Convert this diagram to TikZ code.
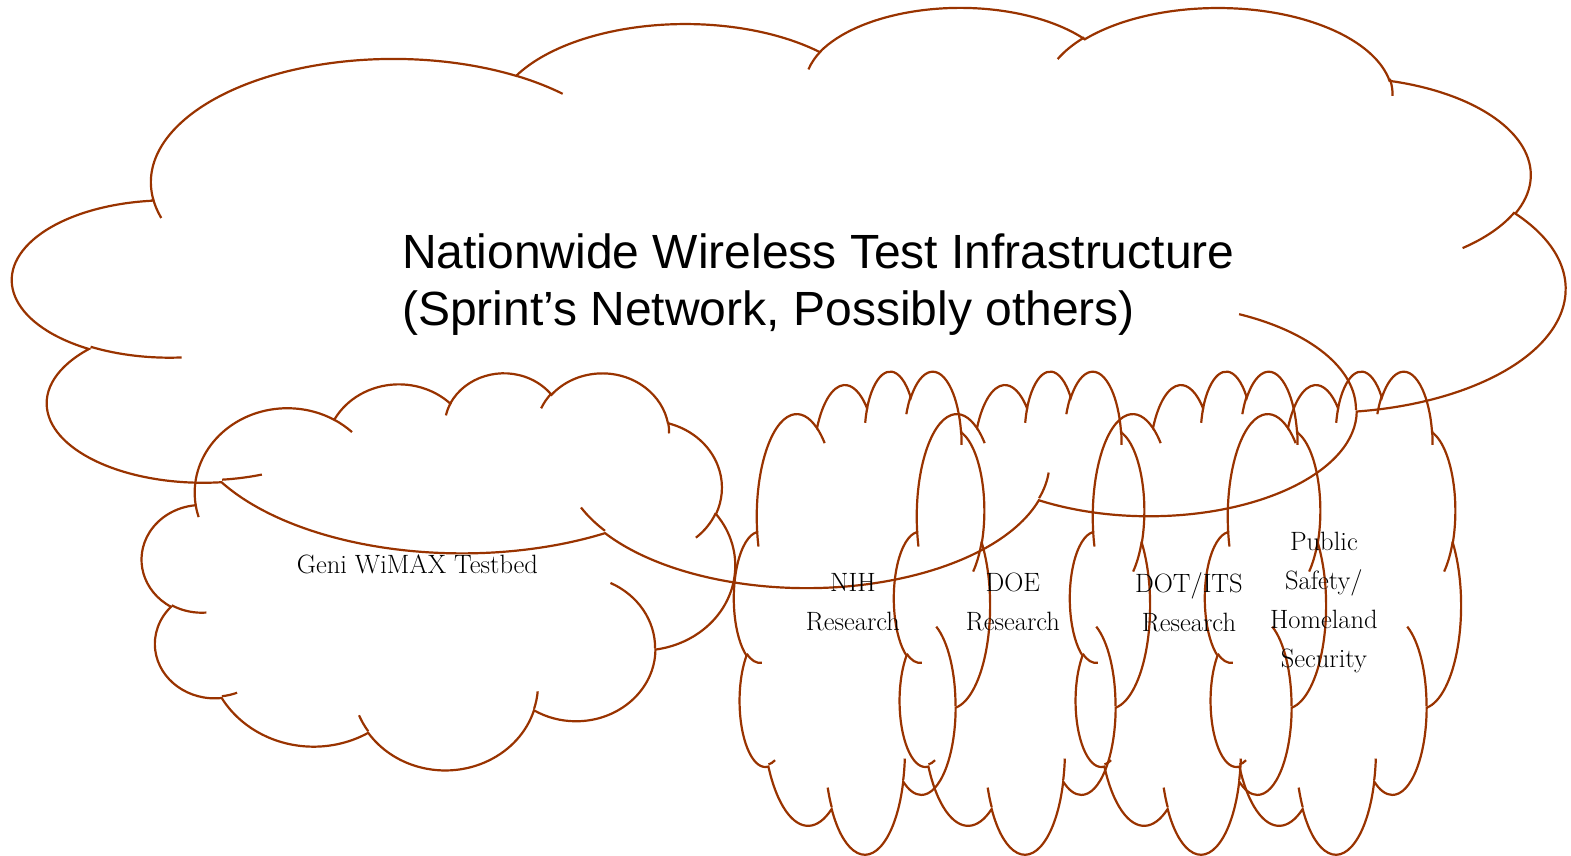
\documentclass[tikz,border=0pt]{standalone}
\usepackage{fontspec}
\newfontfamily\titlefont{Liberation Sans}
\definecolor{cloudred}{HTML}{993300}

% one arc of a cloud: x radius, y radius, start angle, sweep
\newcommand\pptarc[4]{%
  \pgfextra{%
    \pgfmathparse{atan2((#1)*sin(#3),(#2)*cos(#3))}\xdef\arcst{\pgfmathresult}%
    \pgfmathparse{atan2((#1)*sin((#3)+(#4)),(#2)*cos((#3)+(#4)))}\xdef\arcen{\pgfmathresult}%
    \pgfmathparse{mod(\arcen-(\arcst)+720,360)}\xdef\arcdl{\pgfmathresult}}%
  arc[x radius=#1, y radius=#2, start angle=\arcst, delta angle=\arcdl]}

% cloud: name, left, top, width, height
\newcommand\netcloud[5]{%
  \begin{scope}[shift={(#2,#3)},x={({#4/43.2*1pt},0pt)},y={(0pt,{-#5/43.2*1pt})}]
    \draw[cloudline] (3.900,14.370)
      \pptarc{6.753}{9.190}{-190.4875}{123.7805}
      \pptarc{5.333}{7.267}{-144.1024}{89.9452}
      \pptarc{4.365}{5.945}{-145.8079}{99.7230}
      \pptarc{4.857}{6.595}{-130.9861}{117.2417}
      \pptarc{5.333}{7.273}{-78.7089}{109.0269}
      \pptarc{6.775}{9.220}{-46.2673}{130.2690}
      \pptarc{5.785}{7.867}{0.6250}{114.0333}
      \pptarc{6.752}{9.215}{22.4516}{115.1726}
      \pptarc{7.720}{10.543}{66.2426}{75.7110}
      \pptarc{4.360}{5.918}{-274.9421}{146.7356}
      \pptarc{4.345}{5.945}{-246.8285}{152.5189} -- cycle;
    \draw[cloudline]
      (4.693,26.177) \pptarc{4.345}{5.945}{86.7420}{26.4295}
      (6.928,34.899) \pptarc{4.360}{5.918}{73.6105}{11.4475}
      (16.478,39.090) \pptarc{6.752}{9.215}{137.6242}{14.0811}
      (28.827,34.751) \pptarc{6.752}{9.215}{6.4533}{15.9984}
      (34.129,22.954) \pptarc{5.785}{7.867}{-70.2924}{70.9174}
      (41.798,15.354) \pptarc{5.333}{7.273}{30.3180}{27.7515}
      (38.324,5.426) \pptarc{4.857}{6.595}{-13.7443}{14.8589}
      (29.078,3.952) \pptarc{4.857}{6.595}{-149.1815}{18.1954}
      (22.141,4.720) \pptarc{4.365}{5.945}{-163.4943}{17.6864}
      (14.000,5.192) \pptarc{6.753}{9.190}{-66.7070}{12.3194}
      (4.127,15.789) \pptarc{6.753}{9.190}{157.6544}{11.8582};
    \coordinate (#1) at (20.064,20.599);
  \end{scope}}

\begin{document}
\begin{tikzpicture}[x=1pt,y=-1pt]
  \tikzstyle{cloudline}=[draw=cloudred,line width=2.2pt]
  \tikzstyle{cloudlabel}=[font=\fontsize{26.5}{39}\selectfont,align=center,inner sep=0pt]
  \useasboundingbox (0,0) rectangle (1571,856);
  %Big cloud
  \netcloud{nwt}{13}{6}{1552}{580}
  %Testbed cloud
  \netcloud{geni}{142}{372}{593}{397}
  %Research clouds
  \netcloud{nih}{734}{370}{256}{483}
  \netcloud{doe}{894}{370}{256}{483}
  \netcloud{dot}{1070}{370}{256}{483}
  \netcloud{psh}{1205}{370}{256}{483}
  %Labels
  \node[anchor=base west,align=left,inner sep=0pt,
    font=\titlefont\fontsize{48}{57}\selectfont] (title) at (402,325)
    {Nationwide Wireless Test Infrastructure\\(Sprint’s Network, Possibly others)};
  \node[cloudlabel,yshift=-3pt] (genilbl) at (geni) {Geni WiMAX Testbed};
  \node[cloudlabel,yshift=-2pt] (nihlbl) at (nih) {NIH\\Research};
  \node[cloudlabel,yshift=-2pt] (doelbl) at (doe) {DOE\\Research};
  \node[cloudlabel,yshift=-2pt] (dotlbl) at (dot) {DOT/ITS\\Research};
  \node[cloudlabel,yshift=-2pt] (pshlbl) at (psh) {Public\\Safety/\\Homeland\\Security};
\end{tikzpicture}
\end{document}
